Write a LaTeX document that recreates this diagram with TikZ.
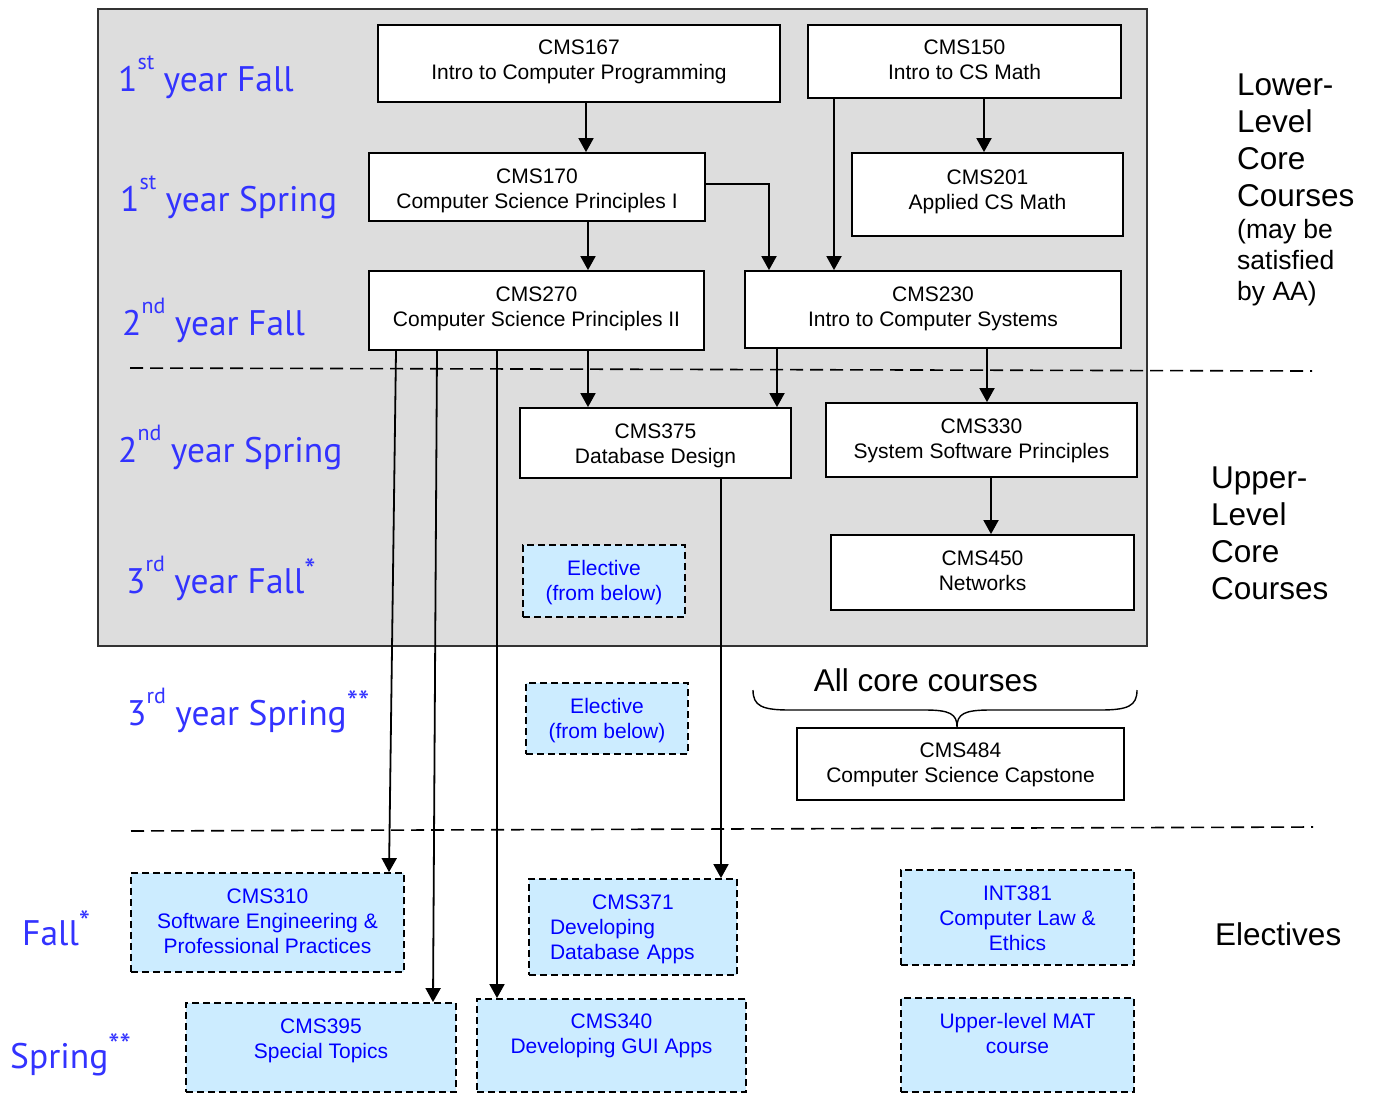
\documentclass[tikz,border=0pt]{standalone}
\usepackage{fontspec}
\setmainfont{Liberation Sans}
\newfontfamily\comicfont{PT Sans}
\usetikzlibrary{arrows.meta,fit}
\definecolor{bggray}{HTML}{DDDDDD}
\definecolor{lblue}{HTML}{CCECFF}
\definecolor{yrblue}{HTML}{3333FF}
\newcommand\supx[1]{\raisebox{22pt}{\fontsize{22}{22}\selectfont #1}}
\newcommand\astx[1]{\raisebox{12pt}{\fontsize{32}{32}\selectfont #1}}
\begin{document}
\begin{tikzpicture}[x=1pt,y=-1pt,
  box/.style={draw=black, line width=1.8pt, fill=white, inner sep=0pt},
  ebox/.style={draw=black, line width=1.8pt, dash pattern=on 7pt off 4pt, fill=lblue, inner sep=0pt},
  btext/.style={align=center, anchor=north, inner sep=0pt, font=\fontsize{21}{25}\selectfont},
  etext/.style={btext, text=blue},
  arr/.style={line width=1.8pt, -{Triangle[length=14pt,width=15pt]}},
  sep/.style={line width=1.6pt, dash pattern=on 13pt off 7pt},
  yl/.style={text=yrblue, font=\comicfont\fontsize{35.5}{40}\selectfont, inner sep=0pt, anchor=base west},
  rt/.style={align=left, inner sep=0pt, font=\fontsize{31.5}{37}\selectfont},
  rts/.style={align=left, inner sep=0pt, font=\fontsize{26.5}{31}\selectfont}
]
\useasboundingbox (0,0) rectangle (1375,1093);
% background
\node[fill=bggray, draw=black!80, line width=1.8pt, inner sep=0pt, fit={(98,9) (1147,646)}] (bg) {};
% separators
\draw[sep] (130,368) -- (1312,371);
\draw[sep] (131,831) -- (1313,827);
% year labels
\node[yl] (l1) at (118,91) {1\supx{st} year Fall};
\node[yl] (l2) at (120,211) {1\supx{st} year Spring};
\node[yl] (l3) at (122,335) {2\supx{nd} year Fall};
\node[yl] (l4) at (118,462) {2\supx{nd} year Spring};
\node[yl] (l5) at (126,593) {3\supx{rd} year Fall\astx{*}};
\node[yl] (l6) at (127,725) {3\supx{rd} year Spring\astx{**}};
\node[yl] (l7) at (22,945) {Fall\astx{*}};
\node[yl] (l8) at (10,1068) {Spring\astx{**}};
% core boxes
\node[box, fit={(378,25) (780,102)}] (c167) {};
\node[box, fit={(808,25) (1121,98)}] (c150) {};
\node[box, fit={(369,153) (705,221)}] (c170) {};
\node[box, fit={(852,153) (1123,236)}] (c201) {};
\node[box, fit={(369,271) (704,350)}] (c270) {};
\node[box, fit={(745,271) (1121,348)}] (c230) {};
\node[box, fit={(520,408) (791,478)}] (c375) {};
\node[box, fit={(826,403) (1137,477)}] (c330) {};
\node[box, fit={(831,535) (1134,610)}] (c450) {};
\node[box, fit={(797,728) (1124,800)}] (c484) {};
% elective boxes
\node[ebox, fit={(523,545) (685,617)}] (el1) {};
\node[ebox, fit={(526,683) (688,754)}] (el2) {};
\node[ebox, fit={(131,873) (404,972)}] (c310) {};
\node[ebox, fit={(529,879) (737,975)}] (c371) {};
\node[ebox, fit={(901,870) (1134,965)}] (i381) {};
\node[ebox, fit={(186,1003) (456,1092)}] (c395) {};
\node[ebox, fit={(477,999) (746,1092)}] (c340) {};
\node[ebox, fit={(901,998) (1134,1092)}] (mat) {};
% box texts
\node[btext] (c167t) at (579,39.5) {CMS167\\Intro to Computer Programming};
\node[btext] (c150t) at (964.5,39.5) {CMS150\\Intro to CS Math};
\node[btext] (c170t) at (537,168.5) {CMS170\\Computer Science Principles I};
\node[btext] (c201t) at (987.5,169.5) {CMS201\\Applied CS Math};
\node[btext] (c270t) at (536.5,286.5) {CMS270\\Computer Science Principles II};
\node[btext] (c230t) at (933,286.5) {CMS230\\Intro to Computer Systems};
\node[btext] (c375t) at (655.5,423.5) {CMS375\\Database Design};
\node[btext] (c330t) at (981.5,418.5) {CMS330\\System Software Principles};
\node[btext] (c450t) at (982.5,550.5) {CMS450\\Networks};
\node[btext] (c484t) at (960.5,742.5) {CMS484\\Computer Science Capstone};
\node[etext] (el1t) at (604,560.5) {Elective\\(from below)};
\node[etext] (el2t) at (607,698.5) {Elective\\(from below)};
\node[etext] (c310t) at (267.5,888.5) {CMS310\\Software Engineering \&\\Professional Practices};
\node[etext, text width=166pt, align=left] (c371t) at (633,894.5) {{\centering CMS371\par}Developing\\Database Apps};
\node[etext] (i381t) at (1017.5,885.5) {INT381\\Computer Law \&\\Ethics};
\node[etext] (c395t) at (321,1018.5) {CMS395\\Special Topics};
\node[etext] (c340t) at (611.5,1013.5) {CMS340\\Developing GUI Apps};
\node[etext] (matt) at (1017.5,1013.5) {Upper-level MAT\\course};
% right labels
\node[rt, anchor=north west] (rlow) at (1237,74) {Lower-\\Level\\Core\\Courses};
\node[rts, anchor=north west] (rlow2) at (1237,219) {(may be\\satisfied\\by AA)};
\node[rt, anchor=north west] (rup) at (1211,467) {Upper-\\Level\\Core\\Courses};
\node[rt, anchor=west] (relec) at (1215,934) {Electives};
\node[rt, anchor=center] (allcore) at (926,680) {All core courses};
% brace
\draw[line width=1.4pt] (753,690) .. controls (753,706) and (762,710) .. (790,710) -- (925,710)
  .. controls (950,710) and (957,714) .. (957,727)
  .. controls (957,714) and (964,710) .. (990,710) -- (1100,710)
  .. controls (1128,710) and (1137,706) .. (1137,690);
% helper x positions
\coordinate (x586) at (586,0);
\coordinate (x984) at (984,0);
\coordinate (x769) at (769,0);
\coordinate (x834) at (834,0);
\coordinate (x588) at (588,0);
\coordinate (x777) at (777,0);
\coordinate (x987) at (987,0);
\coordinate (x991) at (991,0);
\coordinate (x396) at (396,0);
\coordinate (x389) at (389,0);
\coordinate (x437) at (437,0);
\coordinate (x433) at (433,0);
\coordinate (x497) at (497,0);
\coordinate (x721) at (721,0);
\coordinate (y184) at (0,184);
% arrows
\draw[arr] (x586 |- c167.south) -- (x586 |- c170.north);
\draw[arr] (x984 |- c150.south) -- (x984 |- c201.north);
\draw[arr] (c170.east |- y184) -| (x769 |- c230.north);
\draw[arr] (x834 |- c150.south) -- (x834 |- c230.north);
\draw[arr] (x588 |- c170.south) -- (x588 |- c270.north);
\draw[arr] (x588 |- c270.south) -- (x588 |- c375.north);
\draw[arr] (x777 |- c230.south) -- (x777 |- c375.north);
\draw[arr] (x987 |- c230.south) -- (x987 |- c330.north);
\draw[arr] (x991 |- c330.south) -- (x991 |- c450.north);
\draw[arr] (x396 |- c270.south) -- (x389 |- c310.north);
\draw[arr] (x437 |- c270.south) -- (x433 |- c395.north);
\draw[arr] (x497 |- c270.south) -- (x497 |- c340.north);
\draw[arr] (x721 |- c375.south) -- (x721 |- c371.north);
\end{tikzpicture}
\end{document}
